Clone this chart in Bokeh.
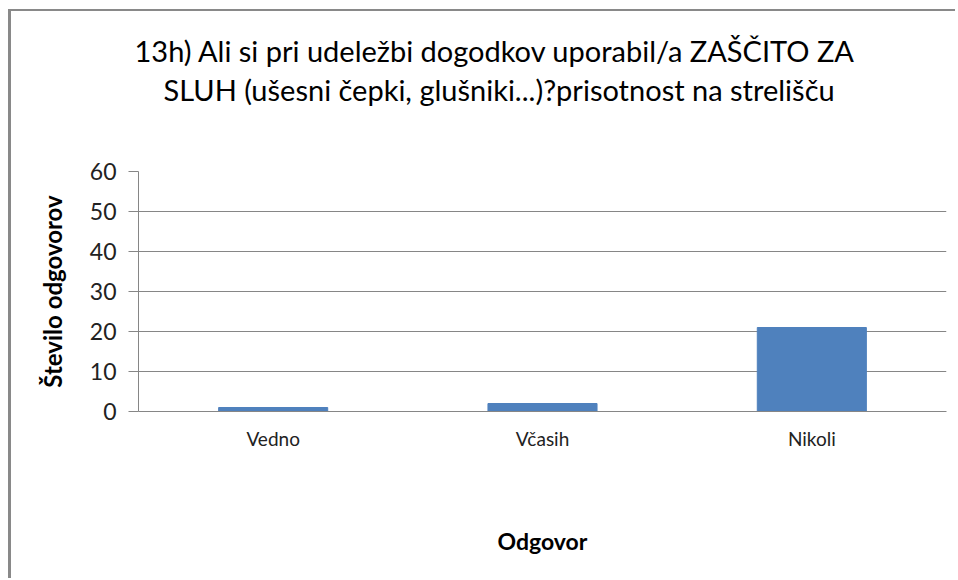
from bokeh.plotting import figure
from bokeh.models import Range1d, Title, ColumnDataSource
from bokeh.embed import file_html
from bokeh.resources import INLINE

categories = ["Vedno", "Včasih", "Nikoli"]
counts = [1, 2, 21]
title_lines = ["13h) Ali si pri udeležbi dogodkov uporabil/a ZAŠČITO ZA",
               "SLUH (ušesni čepki, glušniki...)?prisotnost na strelišču"]
y_ticks = [0, 10, 20, 30, 40, 50, 60]

FONT = "Lato"
GRAY = "#868686"

src = ColumnDataSource(dict(cat=categories, val=counts))

p = figure(x_range=categories, y_range=Range1d(0, 60), width=947, height=569,
           output_backend="svg", toolbar_location=None,
           min_border_left=127, min_border_right=12, min_border_top=160,
           min_border_bottom=169)
p.styles = {"margin-left": "8px", "margin-top": "9px",
            "border-top": "2px solid #898989", "border-left": "3px solid #898989"}
p.outline_line_color = None

p.vbar(x="cat", top="val", source=src, width=0.405, color="#4F81BD")

p.yaxis.ticker = y_ticks
p.yaxis.axis_line_color = GRAY
p.yaxis.major_tick_line_color = GRAY
p.yaxis.major_tick_out = 10
p.yaxis.major_tick_in = 0
p.yaxis.minor_tick_line_color = None
p.yaxis.major_label_standoff = 12
p.yaxis.major_label_text_font = FONT
p.yaxis.major_label_text_font_size = "23px"
p.yaxis.major_label_text_color = "#222222"
p.yaxis.axis_label = "Število odgovorov"
p.yaxis.axis_label_text_font = FONT
p.yaxis.axis_label_text_font_size = "24px"
p.yaxis.axis_label_text_font_style = "bold"
p.yaxis.axis_label_text_color = "#000000"
p.yaxis.axis_label_standoff = 20

p.xaxis.axis_line_color = GRAY
p.xaxis.major_tick_line_color = None
p.xaxis.minor_tick_line_color = None
p.xaxis.major_label_standoff = 9
p.xaxis.major_label_text_font = FONT
p.xaxis.major_label_text_font_size = "19px"
p.xaxis.major_label_text_color = "#222222"
p.xaxis.axis_label = "Odgovor"
p.xaxis.axis_label_text_font = FONT
p.xaxis.axis_label_text_font_size = "23px"
p.xaxis.axis_label_text_font_style = "bold"
p.xaxis.axis_label_text_color = "#000000"
p.xaxis.axis_label_standoff = 74

p.xgrid.grid_line_color = None
p.ygrid.grid_line_color = GRAY
p.ygrid.grid_line_width = 1

# blank spacer between the frame and the title block
p.add_layout(Title(text=".", text_font=FONT, text_font_size="10px",
                   text_color="#ffffff", standoff=53), "above")

title_offsets = [-4, 25]
title_standoffs = [0, 5]
for line, off, so in reversed(list(zip(title_lines, title_offsets, title_standoffs))):
    p.add_layout(Title(text=line, align="left", offset=off,
                       text_font=FONT, text_font_size="29px",
                       text_font_style="normal", text_color="#000000",
                       standoff=so), "above")

open("out.html", "w").write(file_html(p, INLINE))
